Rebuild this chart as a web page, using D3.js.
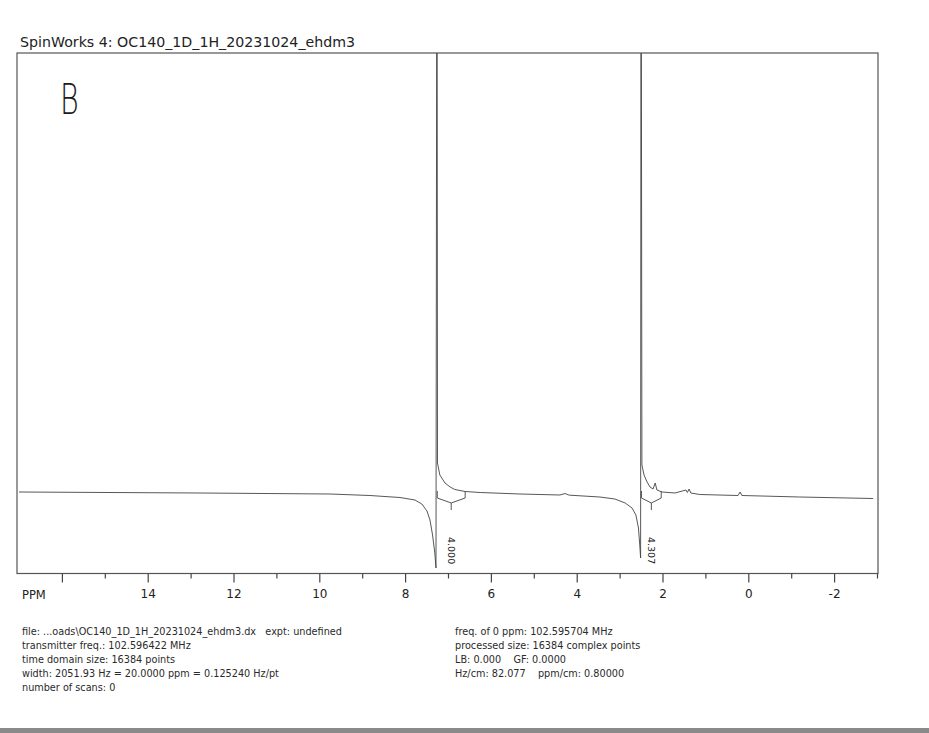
<!DOCTYPE html>
<meta charset="utf-8">
<style>
body { margin: 0; background: #fff; }
text { font-family: "DejaVu Sans", Verdana, sans-serif; fill: #222; }
.frame { fill: none; stroke: #555; stroke-width: 1.2px; }
.spec { fill: none; stroke: #444; stroke-width: 0.9px; }
.integ { fill: none; stroke: #555; stroke-width: 1px; }
.axis line { stroke: #444; stroke-width: 1.2px; }
.axis path { display: none; }
.axis text { font-size: 12px; fill: #222; }
.info { font-size: 9.7px; fill: #2a2a2a; }
</style>
<svg width="929" height="733"></svg>
<script src="https://d3js.org/d3.v7.min.js"></script>
<script>
// spectrum trace (ppm, intensity above the flat baseline)
var ppm = [17.0, 12.78, 9.75, 8.82, 8.12, 7.77, 7.61, 7.49, 7.42, 7.36, 7.31, 7.28,
  7.257, 7.245, 7.19, 7.07, 6.95, 6.84, 6.60, 6.25, 5.32, 4.39, 4.27, 4.20, 4.16,
  3.46, 3.11, 2.87, 2.71, 2.62, 2.56, 2.53, 2.51, 2.50, 2.48, 2.43, 2.36, 2.29,
  2.22, 2.17, 2.13, 2.01, 1.71, 1.45, 1.42, 1.38, 1.34, 1.13, 0.24, 0.19, 0.15,
  -1.2, -2.91];
var intensity = [5, 4, 3, 1.5, -0.5, -3, -7, -14, -23, -38, -55, -71,
  700, 34, 22, 14, 10, 7.5, 5.5, 4.5, 3, 2, 3.5, 2.2, 1.8,
  0, -2, -6, -11, -18, -31, -48, -61, 700, 32, 22, 15, 10,
  8, 14, 7, 5, 4, 7, 4.5, 8, 4, 2.5, 1.5, 5, 1.5,
  0, -1.5];

// integral regions
var integralFrom = [7.25, 2.49];
var integralTo = [6.60, 2.03];
var integralLabels = ["4.000", "4.307"];

// axis
var majorTicks = [16, 14, 12, 10, 8, 6, 4, 2, 0, -2];
var minorTicks = [15, 13, 11, 9, 7, 5, 3, 1, -1, -3];
var tickLabels = ["", "14", "12", "10", "8", "6", "4", "2", "0", "-2"];

var infoLeft = [
  "file: ...oads\\OC140_1D_1H_20231024_ehdm3.dx   expt: undefined",
  "transmitter freq.: 102.596422 MHz",
  "time domain size: 16384 points",
  "width: 2051.93 Hz = 20.0000 ppm = 0.125240 Hz/pt",
  "number of scans: 0"
];
var infoRight = [
  "freq. of 0 ppm: 102.595704 MHz",
  "processed size: 16384 complex points",
  "LB: 0.000    GF: 0.0000",
  "Hz/cm: 82.077    ppm/cm: 0.80000"
];

var svg = d3.select("svg");
var plotLeft = 17, plotRight = 878, plotTop = 53, plotBottom = 573.5;

var x = d3.scaleLinear().domain([17, -3]).range([19, 877]);
var y = d3.scaleLinear().domain([0, 444]).range([497, 53]);

// title and handwritten mark
svg.append("text")
    .attr("x", 20).attr("y", 47)
    .style("font-size", "14.2px")
    .text("SpinWorks 4: OC140_1D_1H_20231024_ehdm3");
svg.append("text")
    .attr("transform", "translate(60,114) scale(0.68,1)")
    .style("font-size", "42px")
    .style("font-weight", "200")
    .style("fill", "#1a1a1a")
    .text("B");

svg.append("clipPath").attr("id", "clip")
  .append("rect")
    .attr("x", plotLeft).attr("y", plotTop)
    .attr("width", plotRight - plotLeft).attr("height", plotBottom - plotTop);

// trace
var pts = ppm.map(function(p, i) { return [p, intensity[i]]; });
var line = d3.line()
    .x(function(d) { return x(d[0]); })
    .y(function(d) { return y(d[1]); });
svg.append("path")
    .datum(pts)
    .attr("class", "spec")
    .attr("clip-path", "url(#clip)")
    .attr("d", line);

// integral brackets
integralFrom.forEach(function(f, i) {
  var xa = x(f), xb = x(integralTo[i]), xm = (xa + xb) / 2;
  svg.append("path")
      .attr("class", "integ")
      .attr("d", "M" + xa + ",491 L" + xa + ",498 L" + xm + ",503 L" + xb + ",498 L" + xb + ",491" +
                 " M" + xm + ",503 L" + xm + ",510");
  svg.append("text")
      .attr("transform", "translate(" + (xm - 3.5) + ",537) rotate(90)")
      .style("font-size", "9.5px")
      .text(integralLabels[i]);
});

// frame
svg.append("rect")
    .attr("class", "frame")
    .attr("x", plotLeft).attr("y", plotTop)
    .attr("width", plotRight - plotLeft).attr("height", plotBottom - plotTop);

// axis ticks
svg.append("g")
    .attr("class", "axis")
    .attr("transform", "translate(0," + plotBottom + ")")
    .call(d3.axisBottom(x).tickValues(majorTicks).tickSize(9).tickPadding(7)
      .tickFormat(function(d, i) { return tickLabels[i]; }));
svg.append("g")
    .attr("class", "axis")
    .attr("transform", "translate(0," + plotBottom + ")")
    .call(d3.axisBottom(x).tickValues(minorTicks).tickSize(5).tickFormat(""));

svg.append("text")
    .attr("x", 22).attr("y", 599)
    .style("font-size", "11.5px")
    .text("PPM");

// parameter block
svg.selectAll(".infoL")
  .data(infoLeft)
  .enter().append("text")
    .attr("class", "info")
    .attr("x", 22)
    .attr("y", function(d, i) { return 634.5 + i * 14.2; })
    .style("white-space", "pre")
    .text(function(d) { return d; });
svg.selectAll(".infoR")
  .data(infoRight)
  .enter().append("text")
    .attr("class", "info")
    .attr("x", 455)
    .attr("y", function(d, i) { return 634.5 + i * 14.2; })
    .style("white-space", "pre")
    .text(function(d) { return d; });

// scan edge at the bottom
svg.append("rect")
    .attr("x", 0).attr("y", 728).attr("width", 929).attr("height", 5)
    .style("fill", "#8a8a8a");
</script>
